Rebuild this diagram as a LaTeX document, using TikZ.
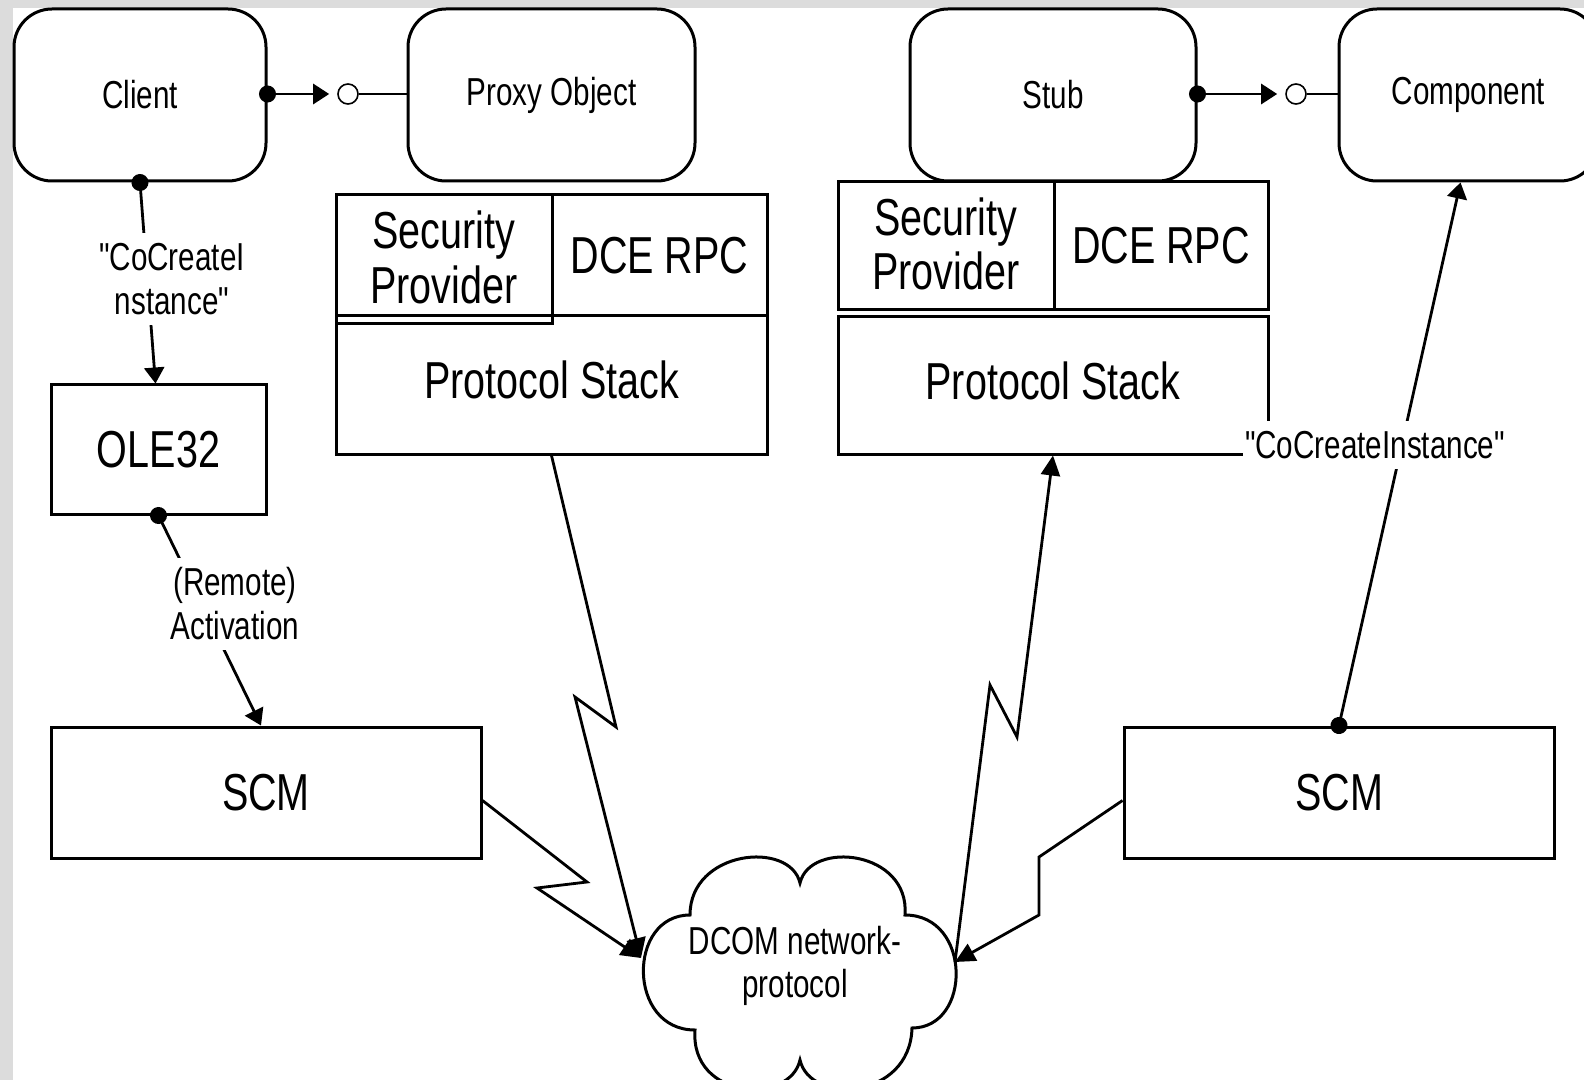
\documentclass[tikz,border=0pt]{standalone}
\usepackage{fontspec}
\setmainfont[FakeStretch=0.76]{Liberation Sans}
\newfontfamily\qfont[FakeStretch=0.76]{Liberation Sans}
\usetikzlibrary{arrows.meta,calc}
\definecolor{greyc}{RGB}{220,220,220}
\newcommand{\sq}{{\qfont\symbol{34}}}
\begin{document}
\begin{tikzpicture}[x=0.5pt,y=-0.5pt,
  every node/.style={font=\fontsize{19.5pt}{22pt}\selectfont},
  big/.style={font=\fontsize{26pt}{28pt}\selectfont},
  rbox/.style={draw, line width=1.5pt, rounded corners=19pt, inner sep=0pt, minimum height=86pt},
  sbox/.style={draw, line width=1.5pt, inner sep=0pt, big, align=center},
  conn/.style={line width=1.4pt},
  dotarr/.style={{Circle[length=8.5pt]}-{Triangle[length=8pt,width=10pt]}, shorten <=-4.25pt},
  tiparr/.style={-{Triangle[length=10pt,width=9.5pt]}},
  lolli/.style={circle, draw, line width=0.8pt, minimum size=10pt, inner sep=0pt, fill=white},
  lbl/.style={fill=white, inner xsep=1pt, inner ysep=5pt, align=center}
]
\useasboundingbox (0,0) rectangle (1584,1080);
\clip (0,0) rectangle (1584,1080);
\fill[white] (0,0) rectangle (1584,1080);
\fill[greyc] (0,0) rectangle (13,1080);
\fill[greyc] (0,0) rectangle (1584,8);

% top rounded boxes
\node[rbox, minimum width=126pt] (client) at (140,95) {Client};
\node[rbox, minimum width=143.5pt] (proxy) at (551.5,95) {Proxy Object};
\node[rbox, minimum width=143pt] (stub) at (1053,95) {Stub};
\node[rbox, minimum width=129.5pt] (comp) at (1468.5,95) {Component};

% left protocol stack group
\node[sbox, minimum width=215.5pt, minimum height=69pt, text depth=5pt] (lps) at (551.5,385) {Protocol Stack};
\node[sbox, minimum width=108pt, minimum height=64.5pt] (lsec) at (444,259.5) {\raisebox{2.5pt}{\shortstack{Security\\Provider}}};
\node[sbox, minimum width=107.5pt, minimum height=60.5pt] (ldce) at (659.5,255.5) {DCE RPC};

% right protocol stack group
\node[sbox, minimum width=215pt, minimum height=68.5pt, text depth=5pt] (rps) at (1053,385.5) {Protocol Stack};
\node[sbox, minimum width=108pt, minimum height=64pt] (rsec) at (946,246) {\raisebox{2.5pt}{\shortstack{Security\\Provider}}};
\node[sbox, minimum width=107pt, minimum height=64pt] (rdce) at (1161,246) {DCE RPC};

% other boxes
\node[sbox, minimum width=107.5pt, minimum height=64.5pt] (ole) at (158.5,449.5) {OLE32};
\node[sbox, minimum width=215pt, minimum height=65.5pt] (scml) at (266,792.5) {SCM};
\node[sbox, minimum width=215pt, minimum height=65.5pt] (scmr) at (1339,792.5) {SCM};

% lollipop interfaces
\node[lolli] (l1) at (348,94) {};
\node[lolli] (l2) at (1296,94) {};
\draw[conn, dotarr, shorten >=4pt] (client.east |- l1) -- (l1.west);
\draw[conn] (l1.east) -- (proxy.west |- l1);
\draw[conn, dotarr, shorten >=4pt] (stub.east |- l2) -- (l2.west);
\draw[conn] (l2.east) -- (comp.west |- l2);

% activation arrows
\draw[conn, dotarr] (client.south) -- ([xshift=-1.5pt]ole.north);
\node[lbl] (lbl1) at (172,279) {\sq CoCreateI\\nstance\sq};
\draw[conn, dotarr] (ole.south) -- ([xshift=-2.5pt]scml.north);
\node[lbl] (lbl2) at (235,604) {(Remote)\\Activation};
\draw[conn, dotarr] (scmr.north) -- ([xshift=-4pt]comp.south);
\node[lbl] (lbl3) at (1375,445) {\sq CoCreateInstance\sq};

% cloud
\draw[line width=1.5pt] (690,915) .. controls (690,850) and (790,840) .. (800,883)
  .. controls (810,840) and (910,850) .. (905,915)
  .. controls (972,915) and (972,1028) .. (912,1028)
  .. controls (910,1100) and (810,1105) .. (800,1060)
  .. controls (790,1105) and (690,1100) .. (695,1030)
  .. controls (627,1030) and (627,915) .. (690,915) -- cycle;
\node[font=\fontsize{19.5pt}{21.2pt}\selectfont, align=center] (cloud) at (795,966) {DCOM network-\\protocol};
\coordinate (cloudL) at (641,958);
\coordinate (cloudR) at (955,962);

% lightning connectors
\draw[conn, tiparr] (lps.south) -- (616,727) -- (575,697) -- (cloudL);
\draw[conn, tiparr] ([yshift=-4pt]scml.east) -- (587,882) -- (537,888) -- (cloudL);
\draw[conn, tiparr] (cloudR) -- (990,685) -- (1017,737) -- (rps.south);
\draw[conn, tiparr] ([yshift=-4pt]scmr.west) -- (1039,857) -- (1039,915) -- (cloudR);
\end{tikzpicture}
\end{document}
